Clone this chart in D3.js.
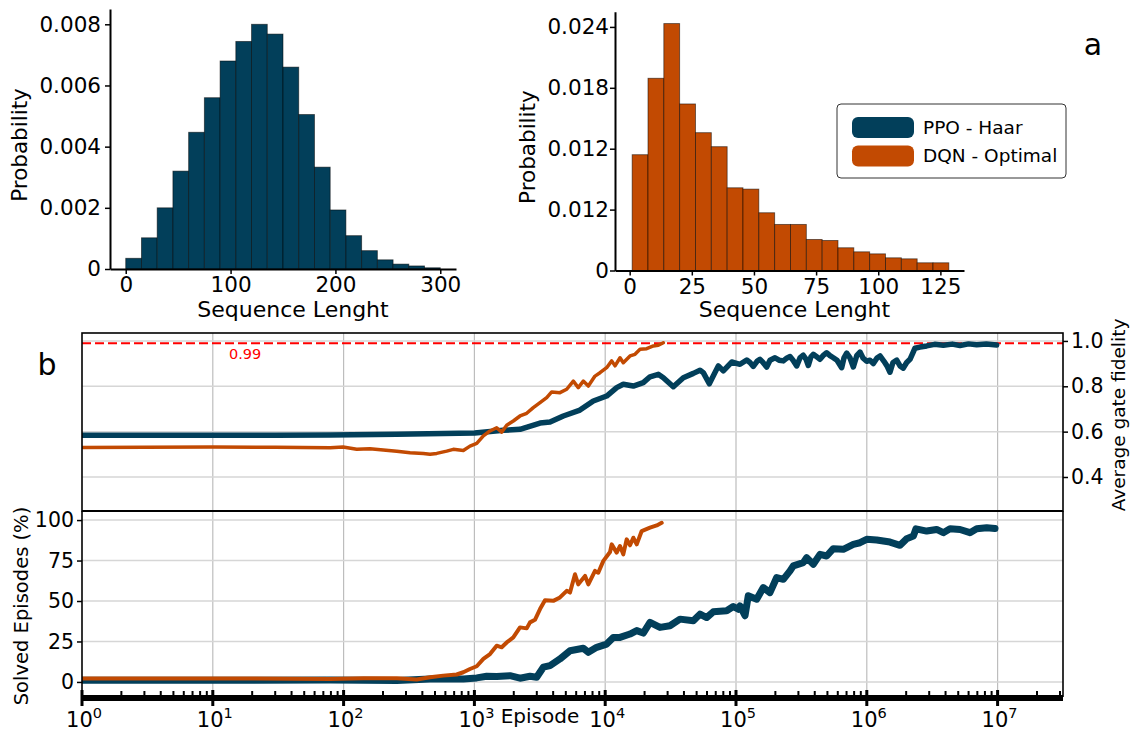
<!DOCTYPE html>
<html>
<head>
<meta charset="utf-8">
<script src="https://cdn.jsdelivr.net/npm/d3@7"></script>
<style>
body { margin: 0; background: #fff; }
svg { font-family: "DejaVu Sans", sans-serif; }
</style>
</head>
<body>
<svg id="chart" width="1131" height="733"></svg>
<script>
// ---- data ----
// panel a, left: PPO - Haar sequence length histogram (bins of 15 from 0)
const ppoBinStart = 0, ppoBinWidth = 15;
const ppoProb = [0.00035, 0.00102, 0.0020, 0.0032, 0.00447, 0.0056, 0.0068, 0.00744, 0.0080, 0.00768,
                 0.0066, 0.00505, 0.00333, 0.00193, 0.00109, 0.0006, 0.0003, 0.00016, 0.0001, 0.00004];
const ppoYTicks = [0, 0.002, 0.004, 0.006, 0.008];
const ppoYLabels = ["0", "0.002", "0.004", "0.006", "0.008"];
const ppoXTicks = [0, 100, 200, 300];

// panel a, right: DQN - Optimal histogram (20 bins from 1 to 128)
const dqnBinStart = 1, dqnBinWidth = 6.37;
const dqnProb = [0.01141, 0.01894, 0.02433, 0.01641, 0.01358, 0.0122, 0.00815, 0.00802, 0.00569, 0.00454,
                 0.00454, 0.00306, 0.00296, 0.00224, 0.00184, 0.00164, 0.00125, 0.00115, 0.00076, 0.00076];
const dqnYTicks = [0, 0.006, 0.012, 0.018, 0.024];
const dqnYLabels = ["0", "0.012", "0.012", "0.018", "0.024"];
const dqnXTicks = [0, 25, 50, 75, 100, 125];

const legendNames = ["PPO - Haar", "DQN - Optimal"];

// panel b: [episode, average gate fidelity]
const ppoFidelity = [[1,0.584],[3,0.584],[10,0.584],[30,0.584],[79,0.585],[255,0.588],[1005,0.594],[1663,0.606],
  [2232,0.610],[3175,0.638],[3786,0.642],[4786,0.669],[6412,0.695],[8110,0.735],[10260,0.757],[12240,0.794],
  [13750,0.809],[16400,0.801],[19550,0.816],[22000,0.842],[25470,0.853],[27820,0.838],[33180,0.798],[39560,0.838],
  [47190,0.857],[53080,0.871],[56240,0.860],[62520,0.811],[73270,0.890],[79980,0.868],[92710,0.907],[107300,0.897],
  [120800,0.916],[127900,0.905],[135600,0.888],[144800,0.910],[152500,0.919],[160800,0.905],[171600,0.885],
  [182000,0.915],[198700,0.926],[213300,0.915],[230000,0.912],[245500,0.925],[258800,0.931],[272900,0.915],
  [291200,0.890],[308300,0.925],[326800,0.937],[342700,0.920],[357100,0.892],[374300,0.930],[389900,0.941],
  [414000,0.930],[438600,0.919],[462500,0.935],[493500,0.948],[523300,0.935],[554600,0.926],[591800,0.915],
  [642800,0.882],[669300,0.925],[701800,0.946],[744500,0.925],[788800,0.885],[837600,0.935],[887500,0.951],
  [935200,0.925],[997900,0.910],[1057000,0.915],[1122000,0.900],[1197000,0.925],[1262000,0.934],[1353000,0.910],
  [1426000,0.890],[1504000,0.862],[1585000,0.905],[1693000,0.915],[1795000,0.890],[1901000,0.880],[2018000,0.905],
  [2139000,0.919],[2260000,0.950],[2334000,0.968],[2551000,0.973],[2871000,0.978],[3300000,0.985],[3845000,0.981],
  [4500000,0.986],[5160000,0.980],[6000000,0.987],[6920000,0.983],[8200000,0.986],[9840000,0.982]];

const dqnFidelity = [[1,0.530],[3,0.531],[10,0.532],[30,0.531],[79,0.529],[99,0.532],[126,0.522],[159,0.525],
  [201,0.519],[255,0.514],[322,0.507],[407,0.504],[458,0.500],[515,0.504],[614,0.514],[690,0.522],[823,0.517],
  [925,0.536],[1042,0.548],[1171,0.581],[1316,0.603],[1480,0.617],[1617,0.598],[1766,0.628],[1983,0.647],
  [2232,0.669],[2511,0.681],[2820,0.706],[3175,0.728],[3571,0.750],[3900,0.775],[4510,0.772],[5078,0.787],
  [5705,0.823],[6226,0.794],[6802,0.823],[7430,0.801],[8356,0.845],[9125,0.860],[10260,0.882],[11210,0.912],
  [11890,0.890],[12980,0.926],[13750,0.904],[15480,0.934],[16900,0.941],[18460,0.963],[20760,0.966],
  [23350,0.978],[25470,0.981],[27820,0.992]];

// panel b: [episode, solved episodes %]
const ppoSolved = [[1,1.0],[10,1.0],[79,1.2],[255,0.9],[458,1.8],[823,1.8],[1042,2.5],[1242,3.5],[1480,3.3],
  [1871,3.9],[2232,2.3],[2661,3.5],[2992,2.9],[3365,9.1],[3786,10.1],[4510,14.2],[5383,19.3],[6802,20.8],
  [7430,18.3],[8610,21.4],[10260,23.4],[11530,27.5],[12980,27.5],[15480,29.6],[17420,31.7],[19550,30.2],
  [22000,36.8],[26240,33.7],[31260,34.7],[37320,38.8],[47190,37.8],[53080,41.9],[59700,39.8],[67000,43.3],
  [84900,44.0],[95300,46.6],[104200,44.9],[107300,47.0],[117200,40.9],[124100,53.2],[143900,51.1],[161700,58.3],
  [181800,55.2],[204700,64.5],[230000,63.4],[258800,68.6],[274200,71.7],[326800,73.7],[346800,76.8],[389900,72.7],
  [438600,78.8],[493500,77.8],[554600,82.3],[661000,81.9],[788800,85.0],[887500,86.0],[997900,88.1],
  [1191000,87.7],[1504000,86.4],[1795000,84.4],[2018000,88.5],[2270000,90.1],[2377000,94.6],[2871000,93.2],
  [3420000,94.2],[3845000,92.2],[4325000,94.6],[5160000,94.2],[6150000,92.2],[6920000,94.6],[8260000,95.3],
  [9550000,94.8]];

const dqnSolved = [[1,2.2],[10,2.2],[79,1.8],[142,2.3],[255,2.3],[362,1.5],[458,2.9],[578,3.9],[732,4.6],
  [823,6.0],[925,8.0],[1042,9.7],[1171,14.2],[1316,17.2],[1480,22.4],[1617,21.4],[1766,24.4],[1983,27.5],
  [2232,33.7],[2511,33.1],[2661,36.8],[2904,38.4],[3175,45.0],[3465,50.5],[4010,50.1],[4510,52.2],[5078,56.3],
  [5383,55.2],[5877,66.5],[6226,60.3],[7015,65.5],[7430,60.3],[8356,68.6],[8850,67.5],[9680,74.8],[10890,80.3],
  [11210,85.0],[12240,79.9],[12980,84.0],[13750,78.8],[14590,88.1],[15480,84.4],[16400,89.1],[17420,85.0],
  [19010,93.2],[22000,95.3],[24770,96.7],[27040,98.3]];

const fidTicks = [0.4, 0.6, 0.8, 1.0];
const solvedTicks = [0, 25, 50, 75, 100];
const threshold = 0.99;

const blue = "#023f5a", orange = "#c24a02";
const svg = d3.select("#chart");

// ---- histograms ----
function histogram(o) {
  const x = d3.scaleLinear().domain(o.xDomain).range(o.xRange);
  const y = d3.scaleLinear().domain(o.yDomain).range(o.yRange);
  const g = svg.append("g");
  g.selectAll("rect").data(o.probs).join("rect")
    .attr("x", (d, i) => x(o.start + i * o.width))
    .attr("width", x(o.width) - x(0))
    .attr("y", d => y(d))
    .attr("height", d => y(0) - y(d))
    .attr("fill", o.color)
    .attr("stroke", "#000").attr("stroke-opacity", 0.55).attr("stroke-width", 0.9);

  const ya = g.append("g").attr("transform", `translate(${o.xRange[0]},0)`)
    .call(d3.axisLeft(y).tickValues(o.yTicks).tickFormat((d, i) => o.yLabels[i])
      .tickSize(5).tickSizeOuter(0).tickPadding(o.yPad));
  const xa = g.append("g").attr("transform", `translate(0,${o.yRange[0]})`)
    .call(d3.axisBottom(x).tickValues(o.xTicks).tickSize(5).tickSizeOuter(0).tickPadding(3));
  [ya, xa].forEach(a => {
    a.select(".domain").attr("stroke-width", 2);
    a.selectAll(".tick line").attr("stroke-width", 1.5);
    a.selectAll("text").attr("font-size", 21.5).attr("fill", "#000").attr("font-family", "DejaVu Sans");
  });
  g.append("text").attr("transform", `translate(${o.yLabelX},${(o.yRange[0] + o.yRange[1]) / 2 + 6}) rotate(-90)`)
    .attr("text-anchor", "middle").attr("dy", "0.35em").attr("font-size", 21.5).text("Probability");
  g.append("text").attr("x", (o.xRange[0] + o.xRange[1]) / 2 + o.xLabelShift).attr("y", 317)
    .attr("text-anchor", "middle").attr("font-size", 22).text("Sequence Lenght");
}

histogram({probs: ppoProb, start: ppoBinStart, width: ppoBinWidth, color: blue,
  xDomain: [-15, 315], xRange: [110, 456], yDomain: [0, 0.0085], yRange: [269, 9],
  yTicks: ppoYTicks, yLabels: ppoYLabels, xTicks: ppoXTicks, yPad: 4, yLabelX: 19, xLabelShift: 10});
histogram({probs: dqnProb, start: dqnBinStart, width: dqnBinWidth, color: orange,
  xDomain: [-5.9, 134.5], xRange: [615, 964], yDomain: [0, 0.0255], yRange: [270.5, 11.7],
  yTicks: dqnYTicks, yLabels: dqnYLabels, xTicks: dqnXTicks, yPad: 1, yLabelX: 527, xLabelShift: 5});

// legend
const leg = svg.append("g").attr("transform", "translate(837,104)");
leg.append("rect").attr("width", 229).attr("height", 74).attr("rx", 4)
  .attr("fill", "#fff").attr("stroke", "#333").attr("stroke-width", 1);
[blue, orange].forEach((c, i) => {
  leg.append("rect").attr("x", 15).attr("y", 13 + i * 28.5).attr("width", 62).attr("height", 21)
    .attr("rx", 6).attr("fill", c);
  leg.append("text").attr("x", 86).attr("y", 23.5 + i * 28.5).attr("dy", "0.35em")
    .attr("font-size", 18.5).text(legendNames[i]);
});
svg.append("text").attr("x", 1093).attr("y", 55).attr("text-anchor", "middle")
  .attr("font-size", 30).text("a");

// ---- panel b ----
const left = 82, right = 1063, topY = 333, midY = 511, botY = 697;
const x = d3.scaleLog().domain([1, Math.pow(10, 7.5)]).range([left, right]);
const yF = d3.scaleLinear().domain([0.25, 1.035]).range([midY, topY]);
const yS = d3.scaleLinear().domain([-9.3, 105.6]).range([botY, midY]);
const decades = d3.range(0, 8).map(k => Math.pow(10, k));

const grid = svg.append("g");
[[topY, midY], [midY, botY]].forEach(([a, b]) => {
  grid.selectAll(null).data(decades.slice(1)).join("line")
    .attr("x1", d => x(d)).attr("x2", d => x(d)).attr("y1", a).attr("y2", b)
    .attr("stroke", "#bdbdbd").attr("stroke-width", 1.2);
});
grid.selectAll(null).data(fidTicks).join("line")
  .attr("x1", left).attr("x2", right).attr("y1", d => yF(d)).attr("y2", d => yF(d))
  .attr("stroke", "#d6d6d6").attr("stroke-width", 1.5);
grid.selectAll(null).data(solvedTicks).join("line")
  .attr("x1", left).attr("x2", right).attr("y1", d => yS(d)).attr("y2", d => yS(d))
  .attr("stroke", "#d6d6d6").attr("stroke-width", 1.5);

// threshold
svg.append("line").attr("x1", left).attr("x2", right).attr("y1", yF(threshold)).attr("y2", yF(threshold))
  .attr("stroke", "#ff0000").attr("stroke-width", 2).attr("stroke-dasharray", "9,4");
svg.append("text").attr("x", x(13.3)).attr("y", yF(threshold) + 16).attr("fill", "#ff0000")
  .attr("font-size", 14.5).text("0.99");

// clip areas
const defs = svg.append("defs");
defs.append("clipPath").attr("id", "clipTop").append("rect")
  .attr("x", left).attr("y", topY).attr("width", right - left).attr("height", midY - topY);
defs.append("clipPath").attr("id", "clipBot").append("rect")
  .attr("x", left).attr("y", midY).attr("width", right - left).attr("height", botY - midY - 3);

const lineF = d3.line().x(d => x(d[0])).y(d => yF(d[1]));
const lineS = d3.line().x(d => x(d[0])).y(d => yS(d[1]));
const series = [
  {data: ppoFidelity, line: lineF, clip: "clipTop", color: blue, w: 5.5},
  {data: dqnFidelity, line: lineF, clip: "clipTop", color: orange, w: 3.5},
  {data: ppoSolved, line: lineS, clip: "clipBot", color: blue, w: 7},
  {data: dqnSolved, line: lineS, clip: "clipBot", color: orange, w: 4}
];
series.forEach(s => {
  svg.append("path").datum(s.data).attr("clip-path", `url(#${s.clip})`)
    .attr("d", s.line).attr("fill", "none").attr("stroke", s.color)
    .attr("stroke-width", s.w).attr("stroke-linejoin", "round").attr("stroke-linecap", "round");
});

// frames
const frame = svg.append("g").attr("stroke", "#000").attr("fill", "none");
frame.append("rect").attr("x", left).attr("y", topY).attr("width", right - left).attr("height", midY - topY)
  .attr("stroke-width", 1.6);
frame.append("line").attr("x1", left).attr("x2", left).attr("y1", midY).attr("y2", botY).attr("stroke-width", 1.6);
frame.append("line").attr("x1", right).attr("x2", right).attr("y1", midY).attr("y2", botY).attr("stroke-width", 1.6);
frame.append("line").attr("x1", left).attr("x2", right).attr("y1", midY).attr("y2", midY).attr("stroke-width", 2);

// right axis (fidelity)
const ra = svg.append("g").attr("transform", `translate(${right},0)`)
  .call(d3.axisRight(yF).tickValues(fidTicks).tickFormat(d3.format(".1f")).tickSize(5).tickPadding(3));
ra.select(".domain").remove();
// left axis (solved %)
const la = svg.append("g").attr("transform", `translate(${left},0)`)
  .call(d3.axisLeft(yS).tickValues(solvedTicks).tickSize(5).tickPadding(3));
la.select(".domain").remove();
[ra, la].forEach(a => {
  a.selectAll(".tick line").attr("stroke-width", 1.5);
  a.selectAll("text").attr("font-size", 20.5).attr("fill", "#000").attr("font-family", "DejaVu Sans");
});

// log x axis
const xg = svg.append("g");
xg.append("line").attr("x1", left - 1).attr("x2", right).attr("y1", 698).attr("y2", 698)
  .attr("stroke", "#000").attr("stroke-width", 6);
const allTicks = x.ticks().filter(d => d <= x.domain()[1]);
const isMajor = d => Math.abs(Math.log10(d) - Math.round(Math.log10(d))) < 1e-9;
xg.selectAll(null).data(allTicks.filter(d => !isMajor(d))).join("line")
  .attr("x1", d => x(d)).attr("x2", d => x(d)).attr("y1", 691).attr("y2", 698)
  .attr("stroke", "#000").attr("stroke-width", 2);
xg.selectAll(null).data(decades).join("line")
  .attr("x1", d => x(d)).attr("x2", d => x(d)).attr("y1", 690).attr("y2", 706)
  .attr("stroke", "#000").attr("stroke-width", 3);
const lbl = xg.selectAll(null).data(decades).join("text")
  .attr("x", d => x(d) + 2).attr("y", 727).attr("text-anchor", "middle").attr("font-size", 21);
lbl.append("tspan").text("10");
lbl.append("tspan").attr("dy", -9).attr("font-size", 14.5).text(d => Math.round(Math.log10(d)));

svg.append("text").attr("x", 540).attr("y", 723).attr("text-anchor", "middle")
  .attr("font-size", 20).text("Episode");
svg.append("text").attr("transform", `translate(21,606) rotate(-90)`).attr("text-anchor", "middle")
  .attr("dy", "0.35em").attr("font-size", 19.5).text("Solved Episodes (%)");
svg.append("text").attr("transform", `translate(1119,415) rotate(-90)`).attr("text-anchor", "middle")
  .attr("dy", "0.35em").attr("font-size", 18.5).text("Average gate fidelity");
svg.append("text").attr("x", 47).attr("y", 375).attr("text-anchor", "middle")
  .attr("font-size", 30).text("b");
</script>
</body>
</html>
